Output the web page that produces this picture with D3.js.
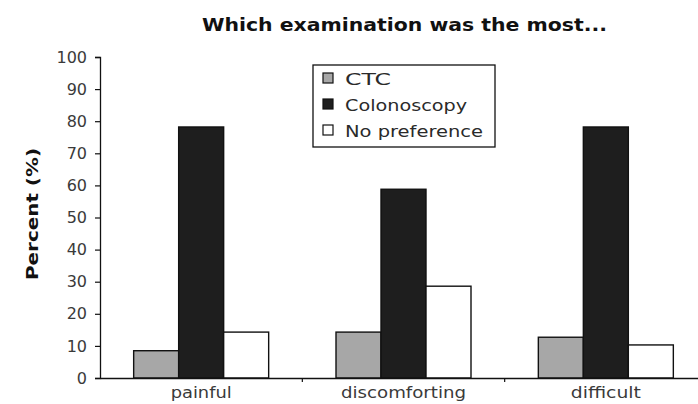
<!DOCTYPE html>
<html>
<head>
<meta charset="utf-8">
<script src="https://cdn.jsdelivr.net/npm/d3@7"></script>
<style>
  body { margin: 0; background: #fff; }
  svg { display: block; }
  text { font-family: "DejaVu Sans", Verdana, sans-serif; }
</style>
</head>
<body>
<svg id="chart" width="698" height="404"></svg>
<script>
// Survey answers: share of patients naming each examination
const categories = ["painful", "discomforting", "difficult"];
const seriesNames = ["CTC", "Colonoscopy", "No preference"];
const ctcValues = [8.5, 14.3, 12.7];
const colonoscopyValues = [78.2, 58.8, 78.2];
const noPreferenceValues = [14.3, 28.6, 10.3];
const yTicks = [0, 10, 20, 30, 40, 50, 60, 70, 80, 90, 100];
const seriesColors = ["#a7a7a7", "#1e1e1e", "#ffffff"];

const series = [ctcValues, colonoscopyValues, noPreferenceValues];

// rendered widths of the wide label lettering
const catLabelWidth = { painful: 61, discomforting: 125, difficult: 70 };
const legendLabelWidth = { "CTC": 46, "Colonoscopy": 122, "No preference": 138 };

const svg = d3.select("#chart");
const margin = { left: 100, top: 57 };
const plotRight = 707;
const baseY = 378;

const x0 = d3.scaleBand().domain(categories).range([margin.left, plotRight]).padding(0);
const groupWidth = 135;
const x1 = d3.scaleBand().domain(seriesNames).range([0, groupWidth]).padding(0);
const y = d3.scaleLinear().domain([0, 100]).range([baseY, margin.top]);

// Title
svg.append("text")
  .attr("x", 202).attr("y", 31)
  .attr("font-size", 18).attr("font-weight", "bold")
  .attr("fill", "#111")
  .attr("textLength", 405).attr("lengthAdjust", "spacingAndGlyphs")
  .text("Which examination was the most...");

// Y axis
const yAxis = d3.axisLeft(y).tickValues(yTicks).tickSize(5).tickPadding(8);
const gy = svg.append("g").attr("transform", `translate(${margin.left},0)`).call(yAxis);
gy.select(".domain").attr("stroke", "#111").attr("stroke-width", 1.3);
gy.selectAll(".tick line").attr("stroke", "#111").attr("stroke-width", 1.2);
gy.selectAll(".tick text").attr("font-size", 16).attr("fill", "#3a3a3a")
  .style("font-family", "'DejaVu Sans', Verdana, sans-serif");

// Y label
svg.append("text")
  .attr("transform", "translate(38,214) rotate(-90)")
  .attr("x", -66)
  .attr("font-size", 16).attr("font-weight", "bold")
  .attr("fill", "#111")
  .attr("textLength", 132).attr("lengthAdjust", "spacingAndGlyphs")
  .text("Percent (%)");

// Bars
const groups = svg.append("g").selectAll("g")
  .data(categories)
  .join("g")
  .attr("transform", d => `translate(${x0(d) + (x0.bandwidth() - groupWidth) / 2},0)`);

groups.selectAll("rect")
  .data((c, ci) => seriesNames.map((s, si) => ({ s, si, v: series[si][ci] })))
  .join("rect")
  .attr("x", d => x1(d.s))
  .attr("y", d => y(d.v))
  .attr("width", x1.bandwidth())
  .attr("height", d => baseY - y(d.v))
  .attr("fill", d => seriesColors[d.si])
  .attr("stroke", "#111")
  .attr("stroke-width", 1.4);

// X axis
const xAxis = d3.axisBottom(x0).tickSize(0).tickPadding(20);
const gx = svg.append("g").attr("transform", `translate(0,${baseY})`).call(xAxis);
gx.select(".domain").attr("stroke", "#111").attr("stroke-width", 1.3);
gx.selectAll(".tick text")
  .attr("dy", 0)
  .attr("x", d => -catLabelWidth[d] / 2)
  .attr("text-anchor", "start")
  .attr("textLength", d => catLabelWidth[d]).attr("lengthAdjust", "spacingAndGlyphs")
  .attr("font-size", 16).attr("fill", "#3a3a3a")
  .style("font-family", "'DejaVu Sans', Verdana, sans-serif");
// separators between categories
gx.selectAll(".sep")
  .data(categories.slice(1))
  .join("line")
  .attr("class", "sep")
  .attr("x1", d => x0(d)).attr("x2", d => x0(d))
  .attr("y1", 0).attr("y2", 4)
  .attr("stroke", "#111").attr("stroke-width", 1.2);

// Legend
const legend = svg.append("g").attr("transform", "translate(313,65)");
legend.append("rect")
  .attr("width", 182).attr("height", 82)
  .attr("fill", "#fff").attr("stroke", "#111").attr("stroke-width", 1.3);
const items = legend.selectAll("g.item")
  .data(seriesNames)
  .join("g")
  .attr("class", "item")
  .attr("transform", (d, i) => `translate(10,${8 + i * 26})`);
items.append("rect")
  .attr("width", 10).attr("height", 10)
  .attr("fill", (d, i) => seriesColors[i])
  .attr("stroke", "#111").attr("stroke-width", 1.2);
items.append("text")
  .attr("x", 22).attr("y", 12)
  .attr("font-size", 16).attr("fill", "#2a2a2a")
  .attr("textLength", d => legendLabelWidth[d]).attr("lengthAdjust", "spacingAndGlyphs")
  .text(d => d);
</script>
</body>
</html>
